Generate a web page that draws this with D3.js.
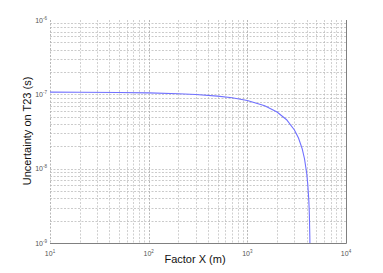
<!DOCTYPE html>
<html>
<head>
<meta charset="utf-8">
<script src="https://cdn.jsdelivr.net/npm/d3@7"></script>
<style>
body{margin:0;background:#fff;}
svg{display:block;font-family:"Liberation Sans",Arial,sans-serif;}
</style>
</head>
<body>
<script>
// values
var factorX=[10,20,50,100,200,300,500,700,1000,1500,2000,2500,3000,3300,3600,3800,4000,4100,4200,4250,4300,4330];
var uncertainty=[1.07e-7,1.065e-7,1.058e-7,1.045e-7,1.02e-7,0.996e-7,0.947e-7,0.898e-7,0.824e-7,0.70e-7,0.578e-7,0.455e-7,0.332e-7,0.258e-7,0.185e-7,0.135e-7,8.6e-9,6.1e-9,3.7e-9,2.5e-9,1.2e-9,5e-10];
var xTicks=[1,2,3,4];   // exponents
var yTicks=[-9,-8,-7,-6];

var W=383,H=273;
var svg=d3.select('body').append('svg').attr('width',W).attr('height',H);

var x=d3.scaleLog().domain([10,1e4]).range([50,346]);
var y=d3.scaleLog().domain([1e-9,1e-6]).range([243,20]);

// minor + major grid values
var xGrid=[],yGrid=[];
for(var e=1;e<4;e++){ for(var m=1;m<10;m++) xGrid.push(m*Math.pow(10,e)); }
for(var e2=-9;e2<-6;e2++){ for(var m2=1;m2<10;m2++) yGrid.push(m2*Math.pow(10,e2)); }

var grid=svg.append('g').attr('class','grid');
grid.selectAll('line.gx').data(xGrid).enter().append('line')
    .attr('class','gx')
    .attr('x1',function(d){return Math.round(x(d))+0.5;})
    .attr('x2',function(d){return Math.round(x(d))+0.5;})
    .attr('y1',y(1e-6)).attr('y2',y(1e-9))
    .attr('stroke',function(d){return d==10||d==100||d==1000?'#999':'#bbb';})
    .attr('stroke-width',0.7)
    .attr('stroke-dasharray','2,1.5');
grid.selectAll('line.gy').data(yGrid).enter().append('line')
    .attr('class','gy')
    .attr('y1',function(d){return Math.round(y(d))+0.5;})
    .attr('y2',function(d){return Math.round(y(d))+0.5;})
    .attr('x1',x(10)).attr('x2',x(1e4))
    .attr('stroke','#b4b4b4').attr('stroke-width',0.7)
    .attr('stroke-dasharray','2,1.5');

// axes lines (bottom + right)
svg.append('line').attr('x1',x(10)).attr('x2',x(1e4)+0.5)
    .attr('y1',y(1e-9)+0.5).attr('y2',y(1e-9)+0.5)
    .attr('stroke','#808080').attr('stroke-width',1);
svg.append('line').attr('x1',x(1e4)+0.5).attr('x2',x(1e4)+0.5)
    .attr('y1',y(1e-6)).attr('y2',y(1e-9)+0.5)
    .attr('stroke','#808080').attr('stroke-width',1);

// curve
svg.append('clipPath').attr('id','clip').append('rect')
    .attr('x',50).attr('y',20).attr('width',296).attr('height',223);
var pts=factorX.map(function(d,i){return [d,uncertainty[i]];});
var line=d3.line().x(function(d){return x(d[0]);}).y(function(d){return y(d[1]);});
svg.append('path').datum(pts)
    .attr('clip-path','url(#clip)')
    .attr('d',line)
    .attr('fill','none')
    .attr('stroke','#7070ff')
    .attr('stroke-width',1.1);

// tick labels
var tl=svg.append('g').attr('fill','#555').attr('font-size',7);
xTicks.forEach(function(e){
    var t=tl.append('text').attr('x',x(Math.pow(10,e))).attr('y',256).attr('text-anchor','middle');
    t.append('tspan').text('10');
    t.append('tspan').attr('dy',-3).attr('font-size',4.5).text(e);
});
yTicks.forEach(function(e){
    var t=tl.append('text').attr('x',47).attr('y',y(Math.pow(10,e))+2.5).attr('text-anchor','end');
    t.append('tspan').text('10');
    t.append('tspan').attr('dy',-3).attr('font-size',4.5).text(e);
});

// titles
svg.append('text').attr('x',195).attr('y',263).attr('text-anchor','middle')
    .attr('font-size',11).attr('fill','#111').text('Factor X (m)');
svg.append('text').attr('transform','translate(31,131) rotate(-90)')
    .attr('text-anchor','middle').attr('font-size',11).attr('fill','#111')
    .text('Uncertainty on T23 (s)');
</script>
</body>
</html>
